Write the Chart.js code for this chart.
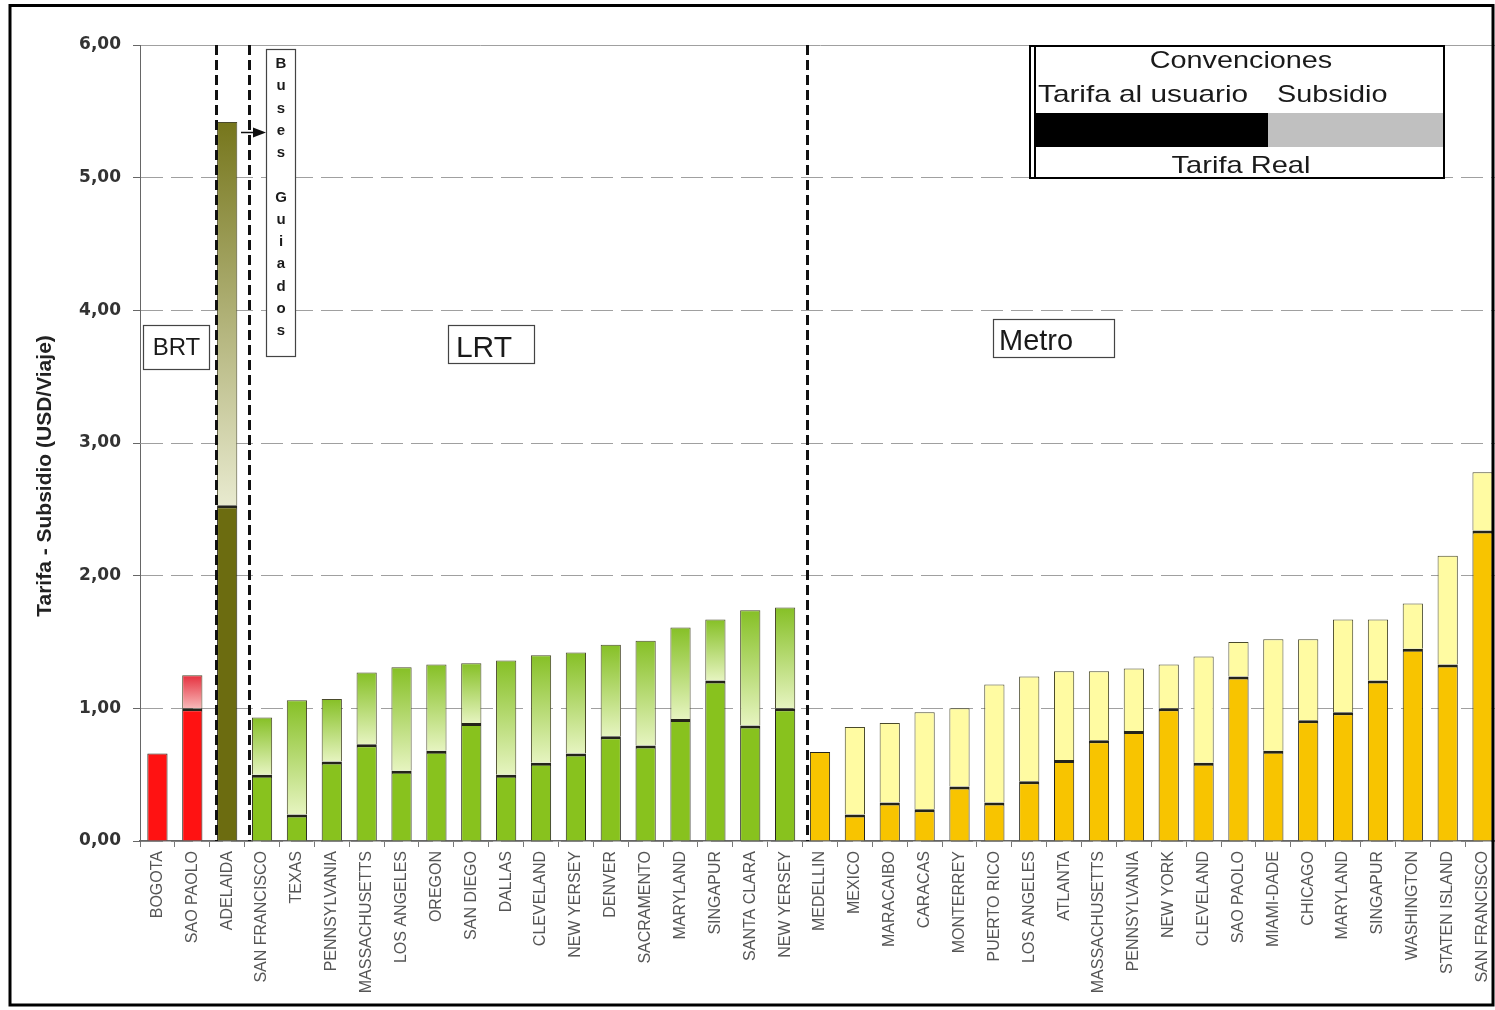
<!DOCTYPE html>
<html lang="es">
<head>
<meta charset="utf-8">
<title>Tarifa - Subsidio (USD/Viaje)</title>
<script src="https://cdn.jsdelivr.net/npm/chart.js@4.4.1/dist/chart.umd.min.js"></script>
<style>
    html, body { margin: 0; padding: 0; background: #fff; overflow: hidden; }
    #wrap { position: relative; width: 1500px; height: 1010px; }
</style>
</head>
<body>
<div id="wrap"><canvas id="grafico"></canvas></div>
<script>
// Ciudades (eje X)
const ciudades = [
    'BOGOTA', 'SAO PAOLO', 'ADELAIDA',
    'SAN FRANCISCO', 'TEXAS', 'PENNSYLVANIA', 'MASSACHUSETTS', 'LOS ANGELES', 'OREGON',
    'SAN DIEGO', 'DALLAS', 'CLEVELAND', 'NEW YERSEY', 'DENVER', 'SACRAMENTO', 'MARYLAND',
    'SINGAPUR', 'SANTA CLARA', 'NEW YERSEY',
    'MEDELLIN', 'MEXICO', 'MARACAIBO', 'CARACAS', 'MONTERREY', 'PUERTO RICO', 'LOS ANGELES',
    'ATLANTA', 'MASSACHUSETTS', 'PENNSYLVANIA', 'NEW YORK', 'CLEVELAND', 'SAO PAOLO',
    'MIAMI-DADE', 'CHICAGO', 'MARYLAND', 'SINGAPUR', 'WASHINGTON', 'STATEN ISLAND', 'SAN FRANCISCO'
];

// Sistema de cada ciudad
const modos = [
    'BRT', 'BRT', 'BUS',
    'LRT', 'LRT', 'LRT', 'LRT', 'LRT', 'LRT', 'LRT', 'LRT',
    'LRT', 'LRT', 'LRT', 'LRT', 'LRT', 'LRT', 'LRT', 'LRT',
    'METRO', 'METRO', 'METRO', 'METRO', 'METRO', 'METRO', 'METRO', 'METRO', 'METRO', 'METRO',
    'METRO', 'METRO', 'METRO', 'METRO', 'METRO', 'METRO', 'METRO', 'METRO', 'METRO', 'METRO'
];

// Tarifa al usuario (USD/viaje)
const tarifa = [
    0.66, 1.00, 2.53,
    0.50, 0.20, 0.60, 0.73, 0.53, 0.68, 0.89, 0.50,
    0.59, 0.66, 0.79, 0.72, 0.92, 1.21, 0.87, 1.00,
    0.67, 0.20, 0.29, 0.24, 0.41, 0.29, 0.45, 0.61, 0.76, 0.83,
    1.00, 0.59, 1.24, 0.68, 0.91, 0.97, 1.21, 1.45, 1.33, 2.34
];

// Subsidio (USD/viaje)
const subsidio = [
    0.00, 0.25, 2.89,
    0.43, 0.86, 0.47, 0.54, 0.78, 0.65, 0.45, 0.86,
    0.81, 0.76, 0.69, 0.79, 0.69, 0.46, 0.87, 0.76,
    0.00, 0.66, 0.60, 0.73, 0.59, 0.89, 0.79, 0.67, 0.52, 0.47,
    0.33, 0.80, 0.26, 0.84, 0.61, 0.70, 0.46, 0.34, 0.82, 0.44
];

// Eje Y
const yMin = 0;
const yMax = 6;
const yPaso = 1;

// Colores por sistema
const colores = {
    BRT:   { tarifa: '#ff1212', arriba: '#e5303e', abajo: '#f8b8b8' },
    BUS:   { tarifa: '#6c6c10', arriba: '#76761c', abajo: '#e8eacf' },
    LRT:   { tarifa: '#88c21e', arriba: '#86c026', abajo: '#e6f4c0' },
    METRO: { tarifa: '#f8c400', arriba: '#fffba2', abajo: '#fffba2' }
};

function fondoTarifa(c) {
    if (c.type !== 'data') return '#888';
    return colores[modos[c.dataIndex]].tarifa;
}

// Degradado del subsidio (oscuro arriba, claro abajo)
function fondoSubsidio(c) {
    if (c.type !== 'data') return '#ccc';
    const i = c.dataIndex;
    const col = colores[modos[i]];
    const chart = c.chart;
    const y = chart.scales.y;
    if (!chart.chartArea || !y) return col.arriba;
    const y0 = y.getPixelForValue(tarifa[i] + subsidio[i]);
    const y1 = y.getPixelForValue(tarifa[i]);
    if (!isFinite(y0) || !isFinite(y1) || y1 - y0 < 1) return col.arriba;
    const g = chart.ctx.createLinearGradient(0, y0, 0, y1);
    g.addColorStop(0, col.arriba);
    g.addColorStop(1, col.abajo);
    return g;
}

const FUENTE = '"Liberation Sans", Arial, sans-serif';

function texto(ctx, str, x, y, size, align, sx, bold) {
    ctx.save();
    ctx.font = (bold ? 'bold ' : '') + size + 'px ' + FUENTE;
    ctx.fillStyle = '#1a1a1a';
    ctx.textAlign = align;
    ctx.textBaseline = 'alphabetic';
    ctx.translate(x, y);
    ctx.scale(sx, 1);
    ctx.fillText(str, 0, 0);
    ctx.restore();
}

function caja(ctx, x, y, w, h, color, ancho) {
    ctx.save();
    ctx.strokeStyle = color;
    ctx.lineWidth = ancho;
    ctx.strokeRect(x, y, w, h);
    ctx.restore();
}

// Separadores entre sistemas (posicion en el eje de categorias)
const separadores = [1.69, 2.62, 18.63];

const anotaciones = {
    id: 'anotaciones',
    afterDatasetsDraw(chart) {
        const { ctx, chartArea, scales: { x } } = chart;

        // lineas punteadas verticales
        ctx.save();
        ctx.strokeStyle = '#111';
        ctx.lineWidth = 3;
        ctx.setLineDash([10, 5]);
        separadores.forEach(v => {
            const px = Math.round(x.getPixelForValue(v)) + 0.5;
            ctx.beginPath();
            ctx.moveTo(px, chartArea.top);
            ctx.lineTo(px, chartArea.bottom);
            ctx.stroke();
        });
        ctx.restore();

        // etiquetas de sistema
        ctx.save();
        ctx.fillStyle = '#fff';
        ctx.fillRect(143, 325, 66, 44);
        ctx.fillRect(448, 325, 86, 38);
        ctx.fillRect(993, 319, 121, 38);
        ctx.restore();
        caja(ctx, 143.5, 325.5, 66, 44, '#444', 1.2);
        texto(ctx, 'BRT', 176.5, 355, 24, 'center', 1.0);
        caja(ctx, 448.5, 325.5, 86, 38, '#444', 1.2);
        texto(ctx, 'LRT', 484, 357, 30, 'center', 1.0);
        caja(ctx, 993.5, 319.5, 121, 38, '#444', 1.2);
        texto(ctx, 'Metro', 999, 350, 29, 'left', 1.0);

        // Buses Guiados
        ctx.save();
        ctx.fillStyle = '#fff';
        ctx.fillRect(266, 49, 30, 308);
        ctx.restore();
        caja(ctx, 266.5, 49.5, 29, 307, '#444', 1.2);
        const letras = 'Buses Guiados'.split('');
        letras.forEach((l, k) => {
            if (l === ' ') return;
            texto(ctx, l, 281, 68 + k * 22.25, 15, 'center', 1.0, true);
        });

        // flecha
        ctx.save();
        ctx.strokeStyle = '#111';
        ctx.fillStyle = '#111';
        ctx.lineWidth = 1.5;
        ctx.beginPath();
        ctx.moveTo(241, 132.5);
        ctx.lineTo(256, 132.5);
        ctx.stroke();
        ctx.beginPath();
        ctx.moveTo(266, 132.5);
        ctx.lineTo(253, 127.5);
        ctx.lineTo(253, 137.5);
        ctx.closePath();
        ctx.fill();
        ctx.restore();

        // Convenciones
        ctx.save();
        ctx.fillStyle = '#fff';
        ctx.fillRect(1030, 46, 415, 133);
        ctx.fillStyle = '#000';
        ctx.fillRect(1036, 113, 232, 34);
        ctx.fillStyle = '#c0c0c0';
        ctx.fillRect(1268, 113, 175, 34);
        ctx.strokeStyle = '#000';
        ctx.lineWidth = 2;
        ctx.strokeRect(1030, 46, 414, 132);
        ctx.beginPath();
        ctx.moveTo(1035, 46);
        ctx.lineTo(1035, 178);
        ctx.stroke();
        ctx.restore();
        texto(ctx, 'Convenciones', 1241, 68, 24, 'center', 1.2);
        texto(ctx, 'Tarifa al usuario', 1038, 102, 24, 'left', 1.24);
        texto(ctx, 'Subsidio', 1277, 102, 24, 'left', 1.2);
        texto(ctx, 'Tarifa Real', 1241, 173, 24, 'center', 1.21);

        // titulo del eje Y
        ctx.save();
        ctx.translate(51, 476);
        ctx.rotate(-Math.PI / 2);
        ctx.font = 'bold 21px ' + FUENTE;
        ctx.fillStyle = '#222';
        ctx.textAlign = 'center';
        ctx.textBaseline = 'alphabetic';
        ctx.fillText('Tarifa - Subsidio (USD/Viaje)', 0, 0);
        ctx.restore();
    },
    afterDraw(chart) {
        const ctx = chart.ctx;
        ctx.save();
        ctx.strokeStyle = '#000';
        ctx.lineWidth = 3;
        ctx.strokeRect(10, 5.5, 1483, 999.5);
        ctx.restore();
    }
};

new Chart(document.getElementById('grafico'), {
    type: 'bar',
    data: {
        labels: ciudades,
        datasets: [{
            label: 'Tarifa al usuario',
            data: tarifa,
            backgroundColor: fondoTarifa,
            borderColor: '#24241a',
            borderWidth: c => ({
                top: subsidio[c.dataIndex] > 0 ? 3 : 1,
                left: 1, right: 1, bottom: 0
            }),
            categoryPercentage: 1,
            barPercentage: 0.58
        }, {
            label: 'Subsidio',
            data: subsidio,
            backgroundColor: fondoSubsidio,
            borderColor: '#4a4a2c',
            borderWidth: { top: 1, left: 1, right: 1, bottom: 0 },
            categoryPercentage: 1,
            barPercentage: 0.58
        }]
    },
    options: {
        responsive: true,
        maintainAspectRatio: false,
        animation: false,
        layout: {
            padding: { left: 10, top: 45, right: 0, bottom: 0 }
        },
        plugins: {
            legend: { display: false },
            tooltip: { enabled: false }
        },
        scales: {
            x: {
                stacked: true,
                offset: true,
                afterFit: s => {
                    s.height = 169;
                    s.paddingLeft = 0;
                    s.paddingRight = 0;
                },
                grid: {
                    offset: true,
                    drawOnChartArea: false,
                    drawTicks: true,
                    tickLength: 6,
                    color: '#777'
                },
                border: { color: '#666', width: 1.5 },
                ticks: {
                    autoSkip: false,
                    minRotation: 90,
                    maxRotation: 90,
                    padding: 4,
                    color: '#555',
                    font: { family: FUENTE, size: 16 }
                }
            },
            y: {
                stacked: true,
                min: yMin,
                max: yMax,
                afterFit: s => {
                    s.width = 130;
                    s.paddingTop = 0;
                    s.paddingBottom = 0;
                },
                grid: {
                    color: '#a0a0a0',
                    tickColor: '#666',
                    tickLength: 7,
                    lineWidth: 1
                },
                border: {
                    color: '#666',
                    width: 1,
                    dash: c => (c.tick && c.tick.value === yMax) ? [] : [22, 8]
                },
                ticks: {
                    stepSize: yPaso,
                    padding: 12,
                    color: '#333',
                    font: { family: '"DejaVu Sans", sans-serif', weight: 'bold', size: 17 },
                    callback: v => v.toFixed(2).replace('.', ',')
                }
            }
        }
    },
    plugins: [anotaciones]
});
</script>
</body>
</html>
